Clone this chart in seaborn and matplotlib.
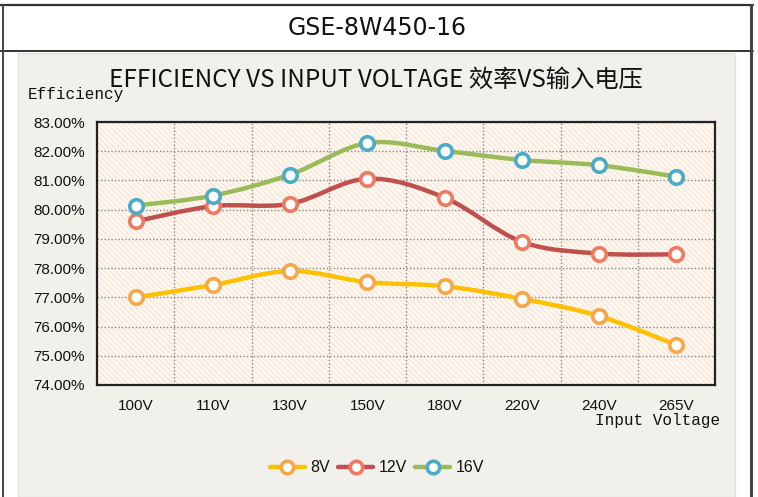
import matplotlib
matplotlib.use("Agg")
import matplotlib.pyplot as plt
import seaborn as sns
import numpy as np
import pandas as pd
from matplotlib.path import Path
from matplotlib.patches import PathPatch, Rectangle
from matplotlib.lines import Line2D
from matplotlib.ticker import FuncFormatter, MultipleLocator

categories = ["100V", "110V", "130V", "150V", "180V", "220V", "240V", "265V"]
eff_8v = [77.00, 77.42, 77.90, 77.52, 77.38, 76.95, 76.36, 75.37]
eff_12v = [79.60, 80.12, 80.20, 81.06, 80.41, 78.90, 78.50, 78.47]
eff_16v = [80.14, 80.48, 81.20, 82.28, 82.01, 81.70, 81.52, 81.13]
series_names = ["8V", "12V", "16V"]
line_colors = ["#FFC000", "#C0504D", "#9BBB59"]
marker_colors = ["#F7A64A", "#EE7A62", "#4BACC6"]

sns.set_theme(style="white")
plt.rcParams["font.family"] = ["Liberation Sans", "DejaVu Sans"]
plt.rcParams["hatch.linewidth"] = 0.6
plt.rcParams["text.color"] = "#111111"

fig = plt.figure(figsize=(7.58, 4.97), dpi=100)
W, H = 758, 497

def fx(px):
    return px / W

def fy(py):
    return 1 - py / H

# table frame
fig.add_artist(Line2D([fx(0), fx(753)], [fy(5), fy(5)], color="#333333", lw=1.6))
fig.add_artist(Line2D([fx(0), fx(753)], [fy(51), fy(51)], color="#333333", lw=1.4))
fig.add_artist(Line2D([fx(3), fx(3)], [fy(5), fy(497)], color="#444444", lw=1.4))
fig.add_artist(Line2D([fx(751), fx(751)], [fy(5), fy(497)], color="#444444", lw=2.2))
fig.add_artist(Rectangle((fx(18), 0), fx(735) - fx(18), fy(53), transform=fig.transFigure,
                         facecolor="#F1F0EA", edgecolor="#E2E1DB", lw=1.0, zorder=0))

fig.text(fx(377), fy(28), "GSE-8W450-16", ha="center", va="center", fontsize=17,
         family=["Liberation Sans Narrow", "DejaVu Sans"], color="#111111")
fig.text(fx(376), fy(80), "EFFICIENCY VS INPUT VOLTAGE 效率VS输入电压", ha="center", va="center",
         fontsize=17.5, family=["Liberation Sans Narrow", "Noto Sans CJK SC", "DejaVu Sans"],
         color="#111111")
fig.text(fx(28), fy(95), "Efficiency", ha="left", va="center", fontsize=11.5,
         family=["Liberation Mono", "DejaVu Sans Mono"], color="#111111")
fig.text(fx(720), fy(421), "Input Voltage", ha="right", va="center", fontsize=11.5,
         family=["Liberation Mono", "DejaVu Sans Mono"], color="#111111")

ax = fig.add_axes([fx(97), fy(385), fx(715) - fx(97), fy(122) - fy(385)])
ax.set_facecolor("#FDF7F0")
ax.add_patch(Rectangle((0, 0), 1, 1, transform=ax.transAxes, facecolor="none",
                       edgecolor="#F4E0CE", hatch="\\\\\\\\\\\\", lw=0, zorder=0))

records = []
for name, vals in zip(series_names, [eff_8v, eff_12v, eff_16v]):
    for i, v in enumerate(vals):
        records.append({"Series": name, "x": i, "Voltage": categories[i], "Efficiency": v})
df = pd.DataFrame(records)

def smooth_path(xs, ys):
    pts = np.column_stack([xs, ys]).astype(float)
    n = len(pts)
    verts = [pts[0]]
    codes = [Path.MOVETO]
    for i in range(n - 1):
        p0 = pts[i - 1] if i > 0 else pts[i]
        p1 = pts[i]
        p2 = pts[i + 1]
        p3 = pts[i + 2] if i + 2 < n else pts[i + 1]
        c1 = p1 + (p2 - p0) / 6.0
        c2 = p2 - (p3 - p1) / 6.0
        verts += [c1, c2, p2]
        codes += [Path.CURVE4] * 3
    return Path(verts, codes)

for name, lc in zip(series_names, line_colors):
    sub = df[df["Series"] == name]
    patch = PathPatch(smooth_path(sub["x"].values, sub["Efficiency"].values),
                      facecolor="none", edgecolor=lc, lw=3.2, zorder=3, capstyle="round")
    ax.add_patch(patch)

for name, mc in zip(series_names, marker_colors):
    sub = df[df["Series"] == name]
    sns.scatterplot(data=sub, x="x", y="Efficiency", ax=ax, s=95, marker="o",
                    facecolor="white", edgecolor=mc, linewidth=2.6, zorder=4, legend=False)

ax.set_xlim(-0.5, len(categories) - 0.5)
ax.set_ylim(74, 83)
ax.yaxis.set_major_locator(MultipleLocator(1))
ax.yaxis.set_major_formatter(FuncFormatter(lambda v, p: f"{v:.2f}%"))
ax.set_xticks(range(len(categories)))
ax.set_xticklabels(categories)
ax.set_xticks(np.arange(0.5, len(categories) - 0.5, 1), minor=True)
ax.grid(False)
ax.grid(True, which="minor", axis="x", color="#888888", ls=(0, (1, 1.5)), lw=1.0)
ax.grid(True, which="major", axis="y", color="#888888", ls=(0, (1, 1.5)), lw=1.0)
ax.set_axisbelow(True)
ax.set_xlabel("")
ax.set_ylabel("")
for s in ax.spines.values():
    s.set_visible(True)
    s.set_color("#222222")
    s.set_linewidth(1.6)
ax.tick_params(axis="both", which="both", length=0, labelsize=11, colors="#111111")
ax.tick_params(axis="x", pad=10)
ax.tick_params(axis="y", pad=9)

handles = [Line2D([0], [0], color=lc, lw=3.2, marker="o", markersize=9,
                  markerfacecolor="white", markeredgecolor=mc, markeredgewidth=2.6)
           for lc, mc in zip(line_colors, marker_colors)]
leg = fig.legend(handles, series_names, loc="center", bbox_to_anchor=(fx(377), fy(468)), ncol=3,
                 frameon=False, fontsize=11.5, handlelength=2.2, handletextpad=0.35,
                 columnspacing=0.5)
for t in leg.get_texts():
    t.set_color("#111111")

fig.savefig("out.png", dpi=100)
